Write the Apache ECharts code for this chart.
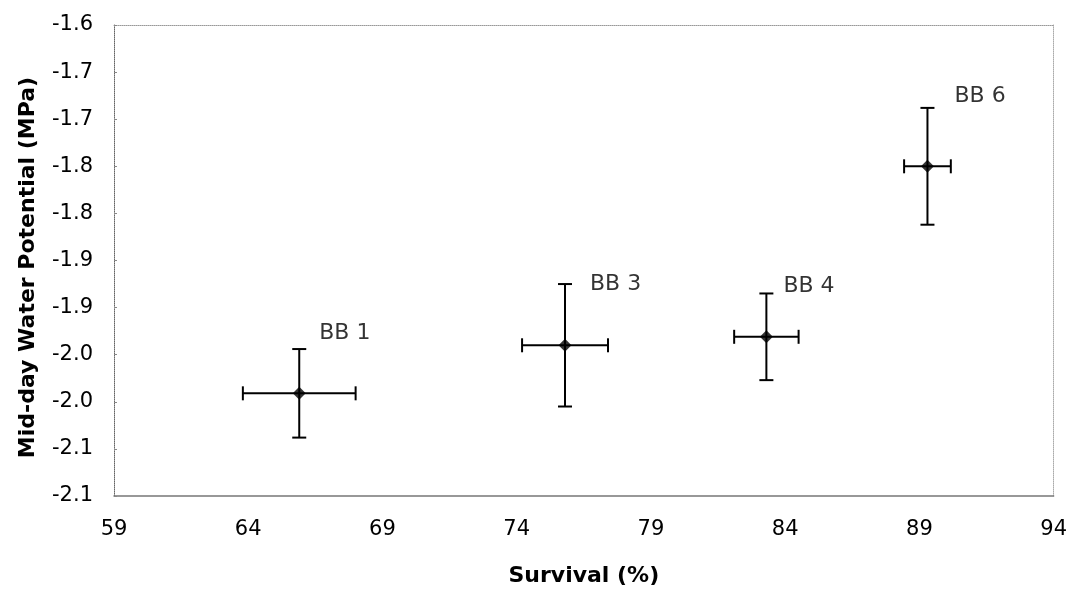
<!DOCTYPE html>
<html>
<head>
<meta charset="utf-8">
<style>
  html, body { margin: 0; padding: 0; background: #fff; }
  #chart { width: 1070px; height: 593px; }
</style>
<script src="https://cdn.jsdelivr.net/npm/echarts@6/dist/echarts.min.js"></script>
</head>
<body>
<div id="chart"></div>
<script>
// data
const sites = ['BB 1', 'BB 3', 'BB 4', 'BB 6'];
const survival = [65.9, 75.8, 83.3, 89.3];
const survivalErr = [2.1, 1.6, 1.2, 0.87];
const waterPotential = [-1.991, -1.940, -1.931, -1.750];
const waterPotentialErr = [0.047, 0.065, 0.046, 0.062];
const xTickLabels = ['59', '64', '69', '74', '79', '84', '89', '94'];
const yTickLabels = ['-2.1', '-2.1', '-2.0', '-2.0', '-1.9', '-1.9', '-1.8', '-1.8', '-1.7', '-1.7', '-1.6'];

// label placement (style only)
const labelOffsets = [[20, -60], [25, -61], [17, -51], [27, -70]];

const font = '"DejaVu Sans", Arial, sans-serif';
const chart = echarts.init(document.getElementById('chart'));

const points = sites.map((name, i) => ({
  value: [survival[i], waterPotential[i]],
  label: { offset: labelOffsets[i] }
}));

const errData = sites.map((_, i) => [survival[i], waterPotential[i], survivalErr[i], waterPotentialErr[i]]);

function renderErr(params, api) {
  const x = api.value(0), y = api.value(1), ex = api.value(2), ey = api.value(3);
  const c = api.coord([x, y]);
  const l = api.coord([x - ex, y]);
  const r = api.coord([x + ex, y]);
  const t = api.coord([x, y + ey]);
  const b = api.coord([x, y - ey]);
  const cap = 7;
  const style = { stroke: '#000', lineWidth: 2 };
  const line = (x1, y1, x2, y2) => ({ type: 'line', shape: { x1, y1, x2, y2 }, style });
  return {
    type: 'group',
    children: [
      line(l[0], c[1], r[0], c[1]),
      line(l[0], c[1] - cap, l[0], c[1] + cap),
      line(r[0], c[1] - cap, r[0], c[1] + cap),
      line(c[0], t[1], c[0], b[1]),
      line(c[0] - cap, t[1], c[0] + cap, t[1]),
      line(c[0] - cap, b[1], c[0] + cap, b[1])
    ]
  };
}

chart.setOption({
  animation: false,
  grid: { left: 114, right: 15, top: 25, bottom: 97 },
  xAxis: [
    {
      type: 'value',
      min: 59,
      max: 94,
      interval: 5,
      name: 'Survival (%)',
      nameLocation: 'middle',
      nameGap: 69,
      nameTextStyle: { fontFamily: font, fontSize: 22, fontWeight: 'bold', color: '#000' },
      axisLine: { lineStyle: { color: '#777', width: 1.5 } },
      axisTick: { show: false },
      splitLine: { show: false },
      axisLabel: {
        fontFamily: font, fontSize: 21, color: '#000', margin: 23,
        formatter: (v, i) => xTickLabels[i]
      }
    },
    {
      type: 'value',
      position: 'top',
      min: 59,
      max: 94,
      axisLine: { lineStyle: { color: '#999', width: 1, type: 'dotted' } },
      axisTick: { show: false },
      axisLabel: { show: false },
      splitLine: { show: false }
    }
  ],
  yAxis: [
    {
      type: 'value',
      min: -2.1,
      max: -1.6,
      interval: 0.05,
      name: 'Mid-day Water Potential (MPa)',
      nameLocation: 'middle',
      nameGap: 75,
      nameTextStyle: {
        fontFamily: font, fontSize: 22, fontWeight: 'bold', color: '#000',
        padding: [0, 14, 0, 0]
      },
      axisLine: { show: true, lineStyle: { color: '#666', width: 1, type: 'dotted' } },
      axisTick: { show: true, inside: true, length: 3, lineStyle: { color: '#888' } },
      splitLine: { show: false },
      axisLabel: {
        fontFamily: font, fontSize: 21, color: '#000', margin: 21,
        formatter: (v, i) => yTickLabels[i]
      }
    },
    {
      type: 'value',
      position: 'right',
      min: -2.1,
      max: -1.6,
      axisLine: { show: true, lineStyle: { color: '#aaa', width: 1, type: 'dotted' } },
      axisTick: { show: false },
      axisLabel: { show: false },
      splitLine: { show: false }
    }
  ],
  series: [
    {
      type: 'custom',
      renderItem: renderErr,
      data: errData,
      z: 2
    },
    {
      type: 'scatter',
      symbol: 'diamond',
      symbolSize: 13,
      itemStyle: { color: '#000' },
      data: points,
      z: 3,
      label: {
        show: true,
        position: 'inside',
        align: 'left',
        formatter: p => sites[p.dataIndex],
        fontFamily: font,
        fontSize: 22,
        color: '#000'
      }
    }
  ]
});
</script>
</body>
</html>
